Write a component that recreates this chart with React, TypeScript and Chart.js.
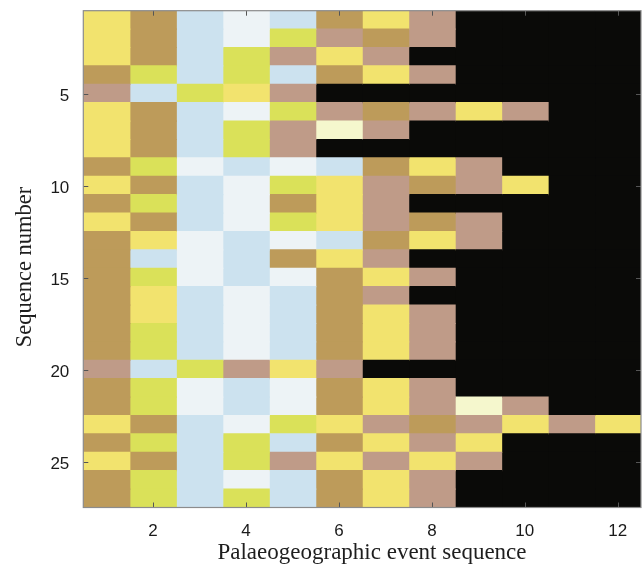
import React, { useEffect, useRef } from "react";
import { Chart, registerables } from "chart.js";

Chart.register(...registerables);

// ---- data ----
const columns = [1, 2, 3, 4, 5, 6, 7, 8, 9, 10, 11, 12];
const rows = [
  1, 2, 3, 4, 5, 6, 7, 8, 9, 10, 11, 12, 13, 14, 15, 16, 17, 18, 19, 20, 21,
  22, 23, 24, 25, 26, 27,
];
const xTickValues = [2, 4, 6, 8, 10, 12];
const yTickValues = [5, 10, 15, 20, 25];
const xTitle = "Palaeogeographic event sequence";
const yTitle = "Sequence number";

// state codes per sequence (row), one letter per event (column)
const states = [
  "YTBWBTYPKKKK",
  "YTBWGPTPKKKK",
  "YTBGPYPKKKKK",
  "TGBGBTYPKKKK",
  "PBGYPKKKKKKK",
  "YTBWGPTPYPKK",
  "YTBGPCPKKKKK",
  "YTBGPKKKKKKK",
  "TGWBWBTYPKKK",
  "YTBWGYPTPYKK",
  "TGBWTYPKKKKK",
  "YTBWGYPTPKKK",
  "TYWBWBTYPKKK",
  "TBWBTYPKKKKK",
  "TGWBWTYPKKKK",
  "TYBWBTPKKKKK",
  "TYBWBTYPKKKK",
  "TGBWBTYPKKKK",
  "TGBWBTYPKKKK",
  "PBGPYPKKKKKK",
  "TGWBWTYPKKKK",
  "TGWBWTYPCPKK",
  "YTBWGYPTPYPY",
  "TGBGBTYPYKKK",
  "YTBGPYPYPKKK",
  "TGBWBTYPKKKK",
  "TGBGBTYPKKKK",
];

const stateColors: Record<string, string> = {
  Y: "#f2e36e",
  T: "#bd9b5a",
  B: "#cce2ef",
  W: "#edf3f6",
  G: "#dae159",
  P: "#bf9b88",
  C: "#f5f7cd",
  K: "#0a0a08",
};

// ---- layout constants ----
const W = 643;
const H = 570;
const PLOT_LEFT = 83.3;
const PLOT_TOP = 10.7;
const PLOT_RIGHT = 641;
const PLOT_BOTTOM = 507.5;

const framePlugin = {
  id: "frameTicks",
  afterDatasetsDraw(chart: any) {
    const { ctx, chartArea: a, scales } = chart;
    const x = scales.x;
    const y = scales.y;
    ctx.save();
    ctx.strokeStyle = "#555555";
    ctx.lineWidth = 1;
    ctx.beginPath();
    const tl = 5;
    for (const v of xTickValues) {
      const px = Math.round(x.getPixelForValue(v)) + 0.5;
      ctx.moveTo(px, a.bottom);
      ctx.lineTo(px, a.bottom - tl);
      ctx.moveTo(px, a.top);
      ctx.lineTo(px, a.top + tl);
    }
    for (const v of yTickValues) {
      const py = Math.round(y.getPixelForValue(v)) + 0.5;
      ctx.moveTo(a.left, py);
      ctx.lineTo(a.left + tl, py);
      ctx.moveTo(a.right, py);
      ctx.lineTo(a.right - tl, py);
    }
    ctx.stroke();
    ctx.strokeStyle = "#8c8c8c";
    ctx.lineWidth = 1.2;
    ctx.strokeRect(a.left, a.top, a.right - a.left, a.bottom - a.top);
    ctx.restore();
  },
  afterDraw(chart: any) {
    const { ctx } = chart;
    ctx.save();
    ctx.fillStyle = "#1e1e1e";
    ctx.font = '23px "Liberation Serif", "Times New Roman", serif';
    ctx.textAlign = "center";
    ctx.textBaseline = "alphabetic";
    ctx.fillText(xTitle, 372, 558.5);
    ctx.translate(30.5, 267);
    ctx.rotate(-Math.PI / 2);
    ctx.font = '22.5px "Liberation Serif", "Times New Roman", serif';
    ctx.fillText(yTitle, 0, 0);
    ctx.restore();
  },
};

export default function App() {
  const canvasRef = useRef<HTMLCanvasElement | null>(null);

  useEffect(() => {
    if (!canvasRef.current) return;
    const datasets = columns.map((c, j) => ({
      label: `Event ${c}`,
      data: rows.map((r) => ({ y: r, x: [c - 0.5, c + 0.5] })),
      backgroundColor: rows.map((r, i) => stateColors[states[i][j]]),
      borderWidth: 0,
      inflateAmount: 0.6,
      grouped: false,
      barPercentage: 1,
      categoryPercentage: 1,
    }));

    const chart = new Chart(canvasRef.current, {
      type: "bar",
      data: { datasets: datasets as any },
      options: {
        animation: false,
        responsive: false,
        indexAxis: "y",
        layout: {
          padding: { top: PLOT_TOP, right: W - PLOT_RIGHT, left: 0, bottom: 0 },
        },
        plugins: {
          legend: { display: false },
          tooltip: { enabled: false },
        },
        scales: {
          x: {
            type: "linear",
            position: "bottom",
            offset: false,
            min: 0.5,
            max: 12.5,
            grid: { display: false, drawTicks: false, offset: false },
            border: { display: false },
            afterBuildTicks: (scale: any) => {
              scale.ticks = xTickValues.map((v) => ({ value: v }));
            },
            afterFit: (scale: any) => {
              scale.height = H - PLOT_BOTTOM;
              scale.paddingLeft = 0;
              scale.paddingRight = 0;
              scale.paddingTop = 0;
              scale.paddingBottom = 0;
            },
            ticks: {
              padding: 14,
              color: "#1a1a1a",
              font: { family: '"Liberation Sans", Arial, sans-serif', size: 17 },
              maxRotation: 0,
              autoSkip: false,
            },
          },
          y: {
            type: "linear",
            position: "left",
            offset: false,
            min: 0.5,
            max: 27.5,
            reverse: true,
            grid: { display: false, drawTicks: false, offset: false },
            border: { display: false },
            afterBuildTicks: (scale: any) => {
              scale.ticks = yTickValues.map((v) => ({ value: v }));
            },
            afterFit: (scale: any) => {
              scale.width = PLOT_LEFT;
              scale.paddingLeft = 0;
              scale.paddingRight = 0;
              scale.paddingTop = 0;
              scale.paddingBottom = 0;
            },
            ticks: {
              padding: 14,
              labelOffset: 3,
              color: "#1a1a1a",
              font: { family: '"Liberation Sans", Arial, sans-serif', size: 17 },
              autoSkip: false,
            },
          },
        },
      },
      plugins: [framePlugin],
    });
    return () => chart.destroy();
  }, []);

  return (
    <div style={{ position: "absolute", left: 0, top: 0, width: W, height: H, background: "#ffffff" }}>
      <canvas ref={canvasRef} width={W} height={H} style={{ display: "block" }} />
    </div>
  );
}
